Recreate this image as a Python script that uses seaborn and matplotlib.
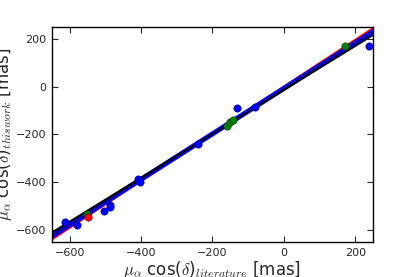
import numpy as np
import pandas as pd
import matplotlib
matplotlib.use("Agg")
import matplotlib.pyplot as plt
import seaborn as sns

sns.set_style("ticks")
plt.rcParams['font.family'] = ['DejaVu Sans']
plt.rcParams['mathtext.fontset'] = 'cm'

# data: literature vs this work (mas)
blue_lit = [-613, -579, -503, -487, -487, -409, -404, -241, -130, -80, 239]
blue_this = [-568, -579, -518, -493, -503, -387, -397, -240, -88, -85, 172]
green_lit = [-552, -160, -150, -142, 172]
green_this = [-533, -166, -149, -140, 172]
red_lit = [-548]
red_this = [-543]

# fitted relations (slope, intercept)
fit_names = ['red', 'black', 'blue']
fit_slopes = [0.978, 0.918, 0.95]
fit_intercepts = [-1.5, -13.5, -7.5]

xline = np.array([-700, 300])

fig = plt.figure(figsize=(4.15, 2.77), dpi=100)
ax = fig.add_axes([0.125, 0.126, 0.774, 0.777])

styles = {
    'red': dict(color='red', lw=2.0, zorder=2),
    'blue': dict(color='blue', lw=3.6, zorder=2.2),
    'black': dict(color='black', lw=1.4, zorder=2.5),
}
for name, m, c in zip(fit_names, fit_slopes, fit_intercepts):
    ax.plot(xline, m * xline + c, **styles[name])
# dashed black inside blue band
ax.plot(xline, fit_slopes[2] * xline + fit_intercepts[2], color='black', lw=0.7, ls='--', zorder=2.4)

sns.scatterplot(x=blue_lit, y=blue_this, color='blue', s=28, edgecolor='#000080', linewidth=0.4, ax=ax, zorder=4)
sns.scatterplot(x=green_lit, y=green_this, color='green', s=28, edgecolor='#003000', linewidth=0.4, ax=ax, zorder=5)
sns.scatterplot(x=red_lit, y=red_this, color='red', s=28, edgecolor='#600000', linewidth=0.4, ax=ax, zorder=5)

ax.set_xlim(-650, 250)
ax.set_ylim(-650, 250)
ax.set_xticks([-600, -400, -200, 0, 200])
ax.set_yticks([-600, -400, -200, 0, 200])
ax.tick_params(direction='in', top=True, right=True, labelsize=8, length=4, width=0.8, pad=4)
for s in ax.spines.values():
    s.set_linewidth(1.0)
    s.set_color('black')

ax.set_xlabel(r'$\mu_\alpha$ cos($\delta$)$_{literature}$ [mas]', fontsize=12, labelpad=1)
ax.set_ylabel(r'$\mu_\alpha$ cos($\delta$)$_{thiswork}$ [mas]', fontsize=12, labelpad=1)

fig.savefig('out.png', dpi=100)
